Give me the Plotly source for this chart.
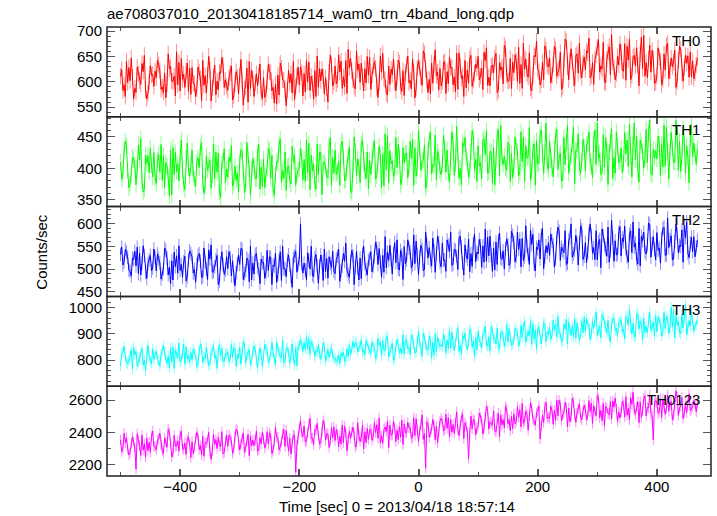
import numpy as np
import plotly.graph_objects as go
from plotly.subplots import make_subplots

# time bins: start and bin width in seconds
T_START = -500
T_STEP = 2

th0 = [
    611, 624, 583, 594, 571, 640, 598, 628, 602, 647, 609, 566, 587, 579, 629, 616, 602, 595, 636, 620, 652, 584, 566, 577, 600, 632, 613, 615, 591, 621,
    608, 643, 634, 622, 585, 590, 579, 617, 568, 596, 655, 626, 630, 601, 601, 611, 572, 659, 594, 638, 582, 646, 605, 615, 589, 621, 637, 581, 627, 575,
    628, 597, 596, 571, 586, 629, 619, 607, 563, 642, 593, 612, 578, 613, 650, 623, 562, 588, 610, 633, 574, 601, 584, 619, 617, 648, 633, 589, 603, 591,
    583, 608, 617, 631, 564, 572, 596, 620, 609, 576, 612, 644, 602, 554, 585, 590, 627, 560, 640, 587, 623, 605, 571, 598, 616, 592, 612, 635, 579, 567,
    608, 569, 575, 601, 634, 620, 618, 582, 589, 558, 595, 556, 613, 574, 637, 627, 604, 603, 585, 553, 584, 622, 598, 616, 578, 640, 565, 591, 611, 629,
    594, 629, 618, 572, 616, 580, 642, 600, 639, 583, 611, 597, 566, 622, 571, 651, 589, 626, 602, 625, 610, 576, 608, 588, 560, 619, 653, 634, 592, 599,
    631, 596, 604, 653, 619, 641, 587, 610, 590, 642, 577, 664, 628, 646, 622, 604, 591, 586, 661, 623, 635, 599, 637, 609, 582, 626, 598, 650, 613, 648,
    585, 613, 632, 640, 627, 589, 569, 598, 651, 619, 656, 607, 604, 577, 574, 631, 595, 625, 614, 645, 600, 582, 608, 643, 637, 591, 581, 622, 573, 618,
    632, 651, 598, 603, 586, 645, 619, 568, 587, 628, 641, 628, 610, 593, 661, 655, 624, 603, 579, 605, 576, 637, 597, 634, 663, 612, 619, 584, 626, 592,
    601, 638, 640, 577, 620, 596, 649, 627, 629, 594, 610, 580, 656, 585, 657, 631, 606, 612, 571, 642, 588, 623, 597, 646, 652, 591, 603, 617, 635, 627,
    650, 604, 611, 627, 585, 658, 642, 667, 593, 609, 592, 630, 633, 618, 647, 656, 579, 584, 638, 623, 629, 596, 672, 665, 613, 601, 602, 646, 587, 639,
    618, 653, 641, 601, 668, 597, 634, 587, 676, 625, 645, 616, 609, 657, 588, 582, 612, 652, 649, 680, 625, 620, 594, 603, 638, 604, 671, 663, 632, 629,
    647, 598, 612, 634, 670, 664, 611, 622, 627, 658, 585, 590, 642, 684, 680, 629, 604, 641, 665, 639, 606, 593, 651, 655, 617, 676, 622, 608, 636, 649,
    624, 661, 657, 686, 608, 612, 638, 595, 644, 653, 668, 683, 619, 631, 625, 678, 600, 598, 645, 659, 669, 614, 693, 638, 628, 604, 616, 650, 633, 675,
    658, 622, 621, 675, 603, 670, 643, 684, 604, 612, 649, 652, 631, 667, 633, 592, 655, 688, 626, 691, 611, 638, 608, 645, 672, 619, 662, 645, 597, 599,
    612, 667, 648, 640, 594, 605, 655, 623, 671, 676, 606, 622, 647, 630, 639, 662, 589, 601, 643, 670, 664, 618, 601, 628, 652, 637, 651, 609, 659, 610,
    641, 606, 618, 633, 647,
]

th1 = [
    410, 383, 391, 429, 443, 436, 397, 369, 375, 390, 418, 414, 404, 374, 398, 437, 413, 447, 380, 362, 367, 421, 408, 420, 393, 432, 405, 386, 425, 384,
    376, 413, 422, 394, 438, 381, 420, 369, 409, 404, 385, 356, 429, 358, 433, 390, 425, 395, 407, 380, 418, 445, 397, 374, 366, 416, 440, 401, 387, 403,
    429, 390, 383, 371, 410, 417, 401, 434, 441, 379, 360, 372, 420, 397, 405, 413, 368, 390, 439, 384, 426, 394, 424, 362, 353, 407, 412, 431, 377, 399,
    386, 418, 410, 436, 371, 377, 403, 381, 392, 362, 411, 430, 427, 394, 361, 375, 441, 421, 398, 357, 399, 415, 406, 383, 384, 424, 438, 367, 402, 371,
    415, 369, 389, 400, 432, 428, 384, 421, 366, 357, 391, 411, 409, 438, 447, 378, 396, 384, 426, 365, 402, 404, 381, 375, 435, 411, 420, 373, 390, 397,
    399, 432, 418, 381, 414, 379, 445, 393, 440, 366, 421, 396, 407, 375, 367, 439, 390, 425, 426, 358, 408, 410, 404, 386, 384, 435, 449, 372, 417, 392,
    429, 390, 395, 411, 373, 437, 443, 419, 380, 382, 406, 418, 434, 365, 361, 399, 450, 427, 388, 415, 403, 377, 438, 445, 408, 394, 384, 426, 368, 412,
    390, 417, 431, 444, 383, 388, 406, 435, 419, 369, 423, 372, 455, 398, 452, 377, 428, 407, 412, 387, 393, 449, 401, 438, 420, 374, 381, 433, 409, 424,
    424, 385, 400, 443, 416, 446, 373, 432, 387, 402, 461, 430, 397, 410, 414, 437, 368, 375, 428, 446, 458, 391, 406, 404, 453, 382, 427, 419, 396, 390,
    406, 453, 431, 394, 429, 392, 378, 416, 458, 441, 389, 407, 467, 422, 384, 400, 373, 441, 435, 449, 418, 409, 386, 396, 427, 460, 450, 397, 414, 379,
    436, 404, 409, 383, 445, 447, 422, 460, 392, 394, 427, 426, 376, 433, 373, 413, 451, 462, 388, 468, 417, 406, 419, 401, 397, 441, 438, 379, 424, 385,
    402, 450, 433, 427, 388, 394, 458, 411, 449, 379, 436, 416, 419, 465, 381, 396, 430, 439, 373, 444, 407, 408, 454, 461, 422, 392, 425, 472, 405, 398,
    443, 413, 401, 386, 432, 452, 462, 398, 418, 424, 380, 381, 449, 406, 441, 468, 392, 409, 419, 438, 466, 375, 429, 427, 455, 401, 392, 411, 446, 433,
    396, 437, 440, 458, 411, 403, 385, 445, 461, 406, 472, 416, 423, 390, 393, 454, 402, 449, 430, 374, 425, 441, 463, 384, 417, 392, 458, 435, 409, 412,
    432, 393, 408, 457, 423, 445, 403, 470, 419, 386, 436, 472, 414, 451, 398, 378, 445, 437, 427, 400, 416, 462, 409, 456, 477, 391, 389, 430, 417, 428,
    415, 451, 439, 388, 438, 402, 469, 404, 466, 427, 383, 427, 457, 432, 410, 409, 476, 452, 397, 443, 395, 419, 462, 441, 392, 436, 418, 377, 448, 470,
    418, 440, 425, 406, 431,
]

th2 = [
    532, 548, 509, 516, 543, 537, 526, 498, 495, 485, 524, 521, 539, 507, 548, 490, 535, 487, 513, 551, 530, 494, 479, 512, 520, 530, 496, 502, 544, 526,
    496, 533, 523, 514, 478, 489, 501, 546, 541, 524, 487, 504, 468, 518, 476, 537, 505, 529, 491, 551, 497, 510, 482, 516, 528, 474, 483, 520, 540, 534,
    527, 491, 499, 471, 510, 530, 534, 517, 481, 483, 546, 515, 500, 477, 542, 522, 553, 493, 495, 505, 520, 530, 466, 474, 513, 538, 509, 488, 498, 527,
    501, 538, 526, 485, 518, 483, 463, 492, 511, 531, 510, 545, 544, 477, 490, 496, 524, 519, 472, 550, 476, 513, 489, 532, 534, 505, 499, 468, 522, 514,
    514, 480, 493, 541, 497, 527, 526, 466, 509, 506, 535, 471, 488, 518, 538, 475, 550, 500, 501, 483, 519, 531, 508, 484, 460, 524, 529, 539, 493, 511,
    521, 599, 512, 491, 513, 498, 476, 536, 519, 500, 550, 487, 483, 524, 532, 507, 469, 507, 531, 516, 475, 544, 494, 523, 480, 527, 512, 503, 539, 495,
    490, 521, 528, 543, 473, 496, 506, 534, 517, 557, 497, 488, 482, 516, 541, 529, 466, 505, 539, 502, 476, 524, 479, 532, 550, 512, 499, 487, 519, 523,
    538, 494, 507, 527, 559, 546, 510, 545, 515, 482, 530, 493, 571, 503, 537, 519, 552, 521, 489, 534, 558, 514, 564, 500, 498, 541, 531, 477, 549, 512,
    520, 564, 546, 538, 503, 509, 575, 512, 561, 532, 488, 527, 552, 543, 496, 499, 581, 553, 524, 547, 518, 507, 568, 540, 493, 534, 572, 558, 515, 505,
    557, 519, 520, 495, 564, 552, 539, 581, 508, 511, 544, 541, 528, 499, 567, 572, 549, 513, 487, 553, 529, 522, 566, 494, 534, 506, 556, 577, 516, 537,
    533, 565, 551, 504, 551, 515, 588, 517, 570, 529, 572, 530, 495, 546, 498, 559, 510, 562, 579, 524, 521, 540, 500, 545, 566, 554, 508, 515, 583, 574,
    559, 516, 528, 581, 543, 566, 505, 567, 519, 527, 595, 550, 532, 510, 585, 554, 576, 511, 496, 548, 543, 564, 522, 574, 589, 501, 527, 551, 536, 558,
    530, 577, 561, 553, 504, 522, 568, 592, 583, 519, 548, 541, 536, 584, 510, 513, 563, 569, 599, 526, 533, 542, 574, 556, 509, 558, 595, 586, 521, 528,
    558, 514, 537, 577, 599, 574, 535, 547, 521, 584, 520, 560, 565, 503, 588, 573, 553, 545, 528, 592, 515, 540, 607, 569, 517, 562, 531, 532, 580, 593,
    529, 568, 560, 594, 545, 527, 515, 576, 584, 536, 603, 548, 557, 522, 511, 589, 507, 572, 562, 581, 538, 533, 553, 601, 598, 526, 555, 571, 543, 520,
    580, 541, 546, 513, 567, 589, 592, 530, 531, 612, 547, 565, 573, 520, 522, 561, 598, 578, 536, 552, 549, 586, 515, 596, 569, 604, 535, 525, 557, 570,
    538, 571, 527, 549, 563,
]

th3 = [
    778, 825, 832, 852, 813, 790, 786, 799, 815, 839, 767, 849, 820, 834, 778, 792, 811, 823, 846, 781, 801, 760, 828, 857, 816, 795, 786, 843, 804, 819,
    835, 803, 797, 777, 822, 838, 856, 830, 812, 786, 815, 771, 847, 795, 849, 769, 839, 826, 808, 866, 793, 800, 825, 861, 784, 851, 805, 818, 791, 830,
    800, 843, 828, 821, 775, 789, 834, 862, 845, 791, 812, 807, 850, 803, 780, 782, 829, 836, 856, 808, 818, 769, 837, 859, 817, 846, 794, 795, 825, 823,
    832, 794, 806, 859, 812, 848, 844, 777, 821, 806, 850, 785, 827, 870, 859, 789, 818, 831, 840, 783, 799, 836, 853, 842, 801, 770, 814, 846, 824, 776,
    816, 860, 842, 838, 791, 803, 826, 869, 829, 804, 783, 867, 851, 833, 812, 809, 876, 790, 796, 842, 848, 830, 788, 820, 862, 813, 781, 847, 779, 855,
    856, 878, 862, 833, 867, 841, 890, 845, 883, 822, 871, 856, 849, 814, 837, 830, 859, 824, 803, 826, 866, 852, 798, 812, 841, 811, 835, 847, 819, 806,
    808, 793, 801, 820, 787, 827, 816, 831, 796, 800, 843, 814, 858, 823, 839, 872, 847, 868, 864, 832, 850, 855, 878, 831, 840, 819, 874, 861, 846, 838,
    825, 869, 852, 848, 807, 818, 883, 857, 870, 818, 874, 836, 836, 892, 885, 813, 832, 843, 865, 799, 809, 852, 878, 861, 827, 845, 826, 897, 822, 874,
    878, 843, 849, 821, 896, 884, 862, 828, 830, 873, 910, 866, 847, 815, 903, 884, 858, 842, 836, 891, 875, 808, 868, 819, 901, 832, 889, 865, 852, 860,
    852, 898, 881, 827, 877, 845, 914, 846, 907, 872, 835, 868, 891, 924, 834, 857, 822, 893, 883, 903, 857, 841, 868, 918, 909, 850, 874, 814, 887, 840,
    910, 874, 866, 847, 899, 902, 930, 858, 853, 889, 835, 927, 916, 881, 884, 863, 922, 848, 842, 904, 909, 892, 851, 875, 937, 869, 921, 885, 856, 862,
    875, 922, 912, 903, 854, 871, 933, 886, 929, 948, 868, 893, 910, 892, 950, 860, 939, 880, 915, 845, 916, 926, 882, 862, 901, 943, 937, 871, 907, 898,
    926, 880, 893, 953, 914, 938, 888, 967, 906, 900, 871, 874, 938, 919, 955, 862, 945, 917, 895, 931, 889, 960, 884, 942, 911, 876, 901, 950, 905, 964,
    911, 958, 936, 934, 878, 899, 947, 920, 951, 984, 894, 915, 929, 885, 973, 967, 940, 928, 902, 952, 892, 870, 936, 958, 961, 913, 921, 891, 944, 946,
    955, 909, 918, 882, 967, 962, 933, 993, 925, 900, 940, 889, 891, 975, 978, 919, 948, 940, 877, 961, 905, 930, 905, 953, 982, 913, 929, 944, 894, 970,
    908, 965, 949, 941, 892, 910, 982, 919, 968, 956, 901, 927, 1002, 927, 994, 884, 970, 935, 947, 906, 901, 976, 923, 960, 1012, 897, 922, 951, 930, 985,
    946, 911, 929, 938, 952,
]

th0123 = [
    2355, 2283, 2302, 2396, 2337, 2368, 2300, 2262, 2276, 2333, 2374, 2341, 2307, 2175, 2392, 2351, 2320, 2259, 2383, 2291, 2330, 2248, 2365, 2288, 2340, 2278, 2376, 2409, 2315, 2313,
    2293, 2352, 2361, 2395, 2322, 2289, 2271, 2365, 2340, 2309, 2420, 2402, 2334, 2250, 2273, 2381, 2316, 2318, 2347, 2285, 2385, 2408, 2302, 2296, 2336, 2264, 2357, 2373, 2327, 2245,
    2343, 2270, 2310, 2364, 2399, 2379, 2295, 2319, 2262, 2377, 2254, 2338, 2336, 2352, 2401, 2285, 2235, 2287, 2387, 2328, 2356, 2301, 2372, 2320, 2313, 2405, 2268, 2277, 2346, 2383,
    2314, 2384, 2366, 2349, 2272, 2297, 2373, 2421, 2410, 2325, 2293, 2331, 2360, 2397, 2278, 2305, 2342, 2389, 2258, 2378, 2318, 2353, 2319, 2352, 2409, 2284, 2294, 2368, 2331, 2402,
    2359, 2306, 2327, 2405, 2328, 2398, 2381, 2271, 2290, 2341, 2430, 2371, 2370, 2293, 2310, 2348, 2392, 2419, 2314, 2413, 2345, 2285, 2364, 2268, 2333, 2387, 2379, 2155, 2320, 2360,
    2425, 2473, 2398, 2375, 2440, 2341, 2347, 2400, 2452, 2487, 2362, 2366, 2325, 2415, 2414, 2456, 2380, 2329, 2336, 2407, 2473, 2447, 2352, 2392, 2393, 2308, 2350, 2429, 2369, 2435,
    2350, 2418, 2391, 2312, 2377, 2329, 2445, 2337, 2438, 2396, 2285, 2355, 2409, 2364, 2402, 2433, 2387, 2310, 2326, 2460, 2381, 2343, 2372, 2446, 2299, 2404, 2337, 2425, 2358, 2412,
    2422, 2352, 2376, 2461, 2399, 2448, 2364, 2490, 2335, 2379, 2333, 2417, 2433, 2406, 2469, 2307, 2445, 2382, 2388, 2469, 2429, 2343, 2414, 2356, 2436, 2371, 2475, 2325, 2453, 2401,
    2396, 2462, 2429, 2430, 2363, 2371, 2491, 2381, 2484, 2417, 2344, 2409, 2445, 2508, 2358, 2392, 2180, 2466, 2455, 2372, 2398, 2422, 2480, 2441, 2355, 2439, 2336, 2402, 2471, 2487,
    2468, 2409, 2418, 2512, 2426, 2490, 2375, 2479, 2402, 2449, 2394, 2457, 2527, 2416, 2381, 2440, 2493, 2512, 2362, 2460, 2438, 2401, 2240, 2396, 2501, 2423, 2481, 2473, 2385, 2427,
    2438, 2520, 2493, 2473, 2390, 2427, 2495, 2561, 2536, 2420, 2466, 2458, 2445, 2532, 2411, 2402, 2487, 2519, 2373, 2509, 2447, 2478, 2429, 2562, 2544, 2454, 2480, 2411, 2500, 2423,
    2515, 2453, 2468, 2558, 2493, 2540, 2435, 2579, 2456, 2470, 2531, 2512, 2414, 2502, 2583, 2547, 2482, 2471, 2445, 2520, 2529, 2564, 2360, 2439, 2506, 2461, 2558, 2585, 2487, 2495,
    2485, 2561, 2538, 2451, 2536, 2476, 2598, 2503, 2599, 2572, 2471, 2509, 2523, 2585, 2552, 2434, 2550, 2466, 2496, 2611, 2587, 2510, 2462, 2521, 2543, 2577, 2490, 2478, 2529, 2568,
    2543, 2477, 2502, 2597, 2529, 2581, 2456, 2564, 2530, 2504, 2628, 2611, 2490, 2536, 2473, 2580, 2441, 2559, 2551, 2518, 2508, 2591, 2485, 2594, 2556, 2613, 2545, 2469, 2527, 2489,
    2524, 2593, 2571, 2495, 2620, 2507, 2549, 2478, 2615, 2574, 2648, 2538, 2513, 2560, 2589, 2461, 2587, 2492, 2534, 2609, 2626, 2502, 2555, 2551, 2631, 2516, 2502, 2355, 2582, 2597,
    2582, 2517, 2529, 2609, 2494, 2606, 2557, 2512, 2548, 2631, 2531, 2587, 2590, 2478, 2503, 2568, 2657, 2620, 2506, 2551, 2562, 2616, 2487, 2519, 2575, 2523, 2601, 2638, 2535, 2545,
    2560, 2598, 2575, 2527, 2584,
]

# per-bin 1-sigma errors (counts/sec)
err_th0 = 16
err_th1 = 13
err_th2 = 15
err_th3 = 20
err_th0123 = 32

series_names = ["TH0", "TH1", "TH2", "TH3", "TH0123"]
series_vals = [th0, th1, th2, th3, th0123]
series_errs = [err_th0, err_th1, err_th2, err_th3, err_th0123]

y_ranges = [[531, 708], [339, 482], [440, 637], [701, 1043], [2132, 2685]]
y_dticks = [50, 50, 50, 100, 200]
y_minor = [10, 10, 10, 20, 100]
colors = ["#ff0000", "#00ff00", "#0000ff", "#00ffff", "#ff00ff"]
err_colors = ["rgba(255,0,0,0.45)", "rgba(0,255,0,0.45)", "rgba(0,0,255,0.45)",
              "rgba(0,255,255,0.45)", "rgba(255,0,255,0.45)"]

TITLE = "ae708037010_20130418185714_wam0_trn_4band_long.qdp"
XLABEL = "Time [sec] 0 = 2013/04/18 18:57:14"
YLABEL = "Counts/sec"

FONT = "Liberation Sans, Arial, Helvetica, sans-serif"
AXIS_COLOR = "#222222"
TICK_COLOR = "#555555"

fig = make_subplots(rows=5, cols=1, shared_xaxes=True, vertical_spacing=0)

for i, (name, vals, err) in enumerate(zip(series_names, series_vals, series_errs)):
    t = T_START + T_STEP * np.arange(len(vals))
    fig.add_trace(
        go.Scatter(
            x=t, y=vals, mode="lines", name=name,
            line=dict(color=colors[i], width=1),
            error_y=dict(type="constant", value=err, color=err_colors[i],
                         thickness=1, width=0),
            showlegend=False, hoverinfo="skip",
        ),
        row=i + 1, col=1,
    )
    fig.update_yaxes(
        range=y_ranges[i], dtick=y_dticks[i], tick0=0,
        ticks="inside", ticklen=8, tickwidth=1.2, tickcolor=TICK_COLOR,
        minor=dict(dtick=y_minor[i], ticks="inside", ticklen=4,
                   tickwidth=1, tickcolor=TICK_COLOR),
        showline=False, mirror="ticks",
        showgrid=False, zeroline=False,
        tickfont=dict(family=FONT, size=15, color="black"),
        ticklabelstandoff=4,
        row=i + 1, col=1,
    )
    fig.update_xaxes(
        range=[-522.7, 490.8], dtick=200, tick0=0,
        ticks="inside", ticklen=7, tickwidth=1.5, tickcolor=TICK_COLOR,
        minor=dict(dtick=100, ticks="inside", ticklen=4, tickwidth=1,
                   tickcolor=TICK_COLOR),
        showline=False, mirror="ticks",
        showgrid=False, zeroline=False,
        tickfont=dict(family=FONT, size=15, color="black"),
        row=i + 1, col=1,
    )
    ax = "" if i == 0 else str(i + 1)
    # panel frame
    fig.add_shape(
        type="rect", xref=f"x{ax} domain", yref=f"y{ax} domain",
        x0=0, x1=1, y0=0, y1=1, line=dict(color=AXIS_COLOR, width=1.5),
        fillcolor="rgba(0,0,0,0)", layer="above",
    )
    fig.add_annotation(
        text=name, xref=f"x{ax} domain", yref=f"y{ax} domain",
        x=0.985, y=0.97, xanchor="right", yanchor="top", showarrow=False,
        font=dict(family=FONT, size=15, color="black"),
    )

fig.add_annotation(
    text=YLABEL, xref="paper", yref="paper", x=-0.109, y=0.5,
    xanchor="center", yanchor="middle", textangle=-90, showarrow=False,
    font=dict(family=FONT, size=15, color="black"),
)
fig.add_annotation(
    text=XLABEL, xref="paper", yref="paper", x=0.48, y=-0.069,
    xanchor="center", yanchor="middle", showarrow=False,
    font=dict(family=FONT, size=15, color="black"),
)

fig.update_layout(
    width=717, height=516,
    margin=dict(l=107, r=6, t=27, b=40),
    paper_bgcolor="white", plot_bgcolor="white",
    hovermode=False,
    title=dict(text=TITLE, xref="container", yref="container",
               x=107 / 717, y=1 - 14 / 516, xanchor="left", yanchor="middle",
               font=dict(family=FONT, size=15, color="black")),
    font=dict(family=FONT, size=15, color="black"),
)

fig.write_html("out.html", config={"displayModeBar": False},
               post_script="document.body.style.margin='0';")
